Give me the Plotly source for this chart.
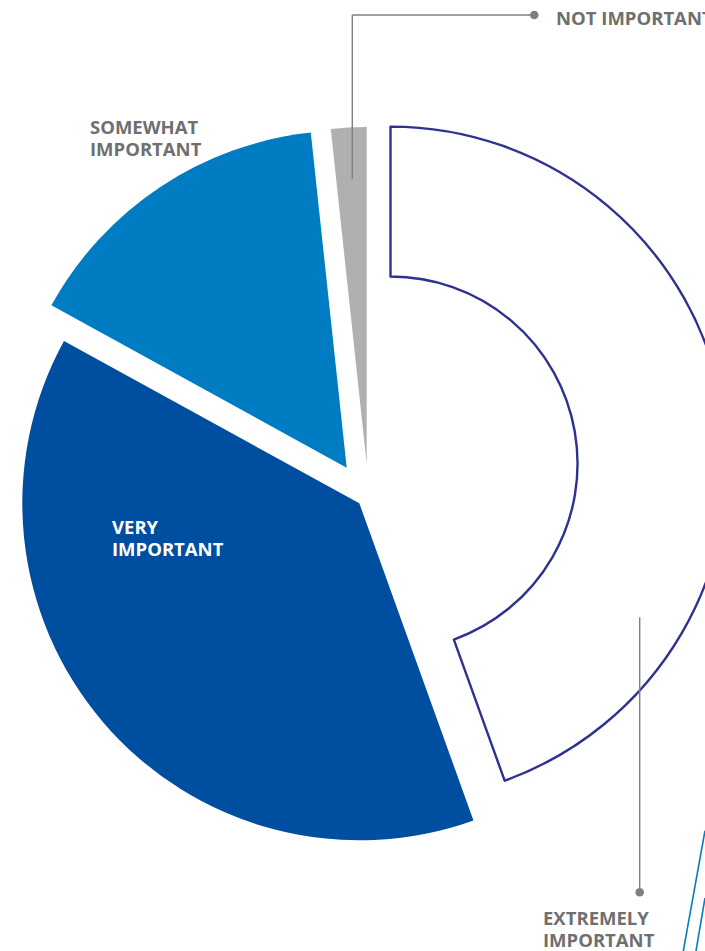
import plotly.graph_objects as go

# ---- data ----
categories = ["EXTREMELY IMPORTANT", "VERY IMPORTANT", "SOMEWHAT IMPORTANT", "NOT IMPORTANT"]
values = [44.5, 38.5, 15.3, 1.7]
label_lines = [["EXTREMELY", "IMPORTANT"], ["VERY", "IMPORTANT"], ["SOMEWHAT", "IMPORTANT"], ["NOT IMPORTANT"]]

# ---- style / layout ----
W, H = 740, 951          # figure is a bit wider than the 705px window (chart is cut at right)
R = 337                  # pie radius in px
fill_colors = ["#ffffff", "#004e9f", "#007cc2", "#b0b0b2"]
line_colors = ["#2e3192", "rgba(0,0,0,0)", "rgba(0,0,0,0)", "rgba(0,0,0,0)"]
line_widths = [2.4, 0, 0, 0]
holes = [0.555, 0, 0, 0]
# exploded slice centres (px)
centres = [(390.5, 463.6), (359.3, 503.3), (346.7, 467.7), (366.7, 464.0)]
# label anchor: left x, middle y of first line (px); line pitch
label_pos = [(542.0, 917.0), (110.5, 526.0), (88.5, 126.0), (555.0, 16.8)]
label_colors = ["#6f6f6f", "#ffffff", "#6f6f6f", "#6f6f6f"]
PITCH = 22
LEADER = "#7f7f7f"
FONT = "Open Sans"
FS = 18.5

def px(x):
    return x / W

def py(y):
    return 1 - y / H

fig = go.Figure()
for i, (cx, cy) in enumerate(centres):
    cols = [fill_colors[j] if j == i else "rgba(0,0,0,0)" for j in range(len(values))]
    lc = [line_colors[j] if j == i else "rgba(0,0,0,0)" for j in range(len(values))]
    lw = [line_widths[j] if j == i else 0 for j in range(len(values))]
    fig.add_trace(go.Pie(
        labels=categories, values=values, sort=False, direction="clockwise",
        rotation=0, hole=holes[i], textinfo="none", hoverinfo="skip",
        marker=dict(colors=cols, line=dict(color=lc, width=lw)),
        domain=dict(x=[px(cx - R), px(cx + R)], y=[py(cy + R), py(cy - R)]),
        showlegend=False,
    ))

for lines, (lx, ly), col in zip(label_lines, label_pos, label_colors):
    for k, t in enumerate(lines):
        fig.add_annotation(text="<b>" + t + "</b>", x=px(lx), y=py(ly + k * PITCH),
                           xref="paper", yref="paper", xanchor="left", yanchor="middle",
                           align="left", valign="middle", height=PITCH - 4, borderpad=0,
                           showarrow=False,
                           font=dict(family=FONT, size=FS, color=col))

shapes = []
def line(x0, y0, x1, y1, color=LEADER, width=1.4):
    shapes.append(dict(type="line", xref="paper", yref="paper", x0=px(x0), y0=py(y0),
                       x1=px(x1), y1=py(y1), line=dict(color=color, width=width), layer="above"))

def dot(x, y, r=4.3, color=LEADER):
    shapes.append(dict(type="circle", xref="paper", yref="paper", x0=px(x - r), y0=py(y - r),
                       x1=px(x + r), y1=py(y + r), fillcolor=color, line=dict(width=0), layer="above"))

# NOT IMPORTANT leader
line(352.3, 179.3, 352.3, 15)
line(352.3, 15, 534.3, 15)
dot(534.3, 15)
# EXTREMELY IMPORTANT leader
line(639.7, 617.3, 639.7, 892.3)
dot(639.7, 892.3)
# fragments of blue lines at the bottom-right edge
line(705, 830.7, 683.3, 951, color="#0a7dc2", width=1.6)
line(705, 898, 696, 951, color="#0a7dc2", width=1.6)

fig.update_layout(
    width=W, height=H, margin=dict(l=0, r=0, t=0, b=0),
    paper_bgcolor="#ffffff", plot_bgcolor="#ffffff",
    shapes=shapes,
)

fig.write_html("out.html", config={"displayModeBar": False},
               post_script="document.body.style.margin='0';document.body.style.overflow='hidden';")
